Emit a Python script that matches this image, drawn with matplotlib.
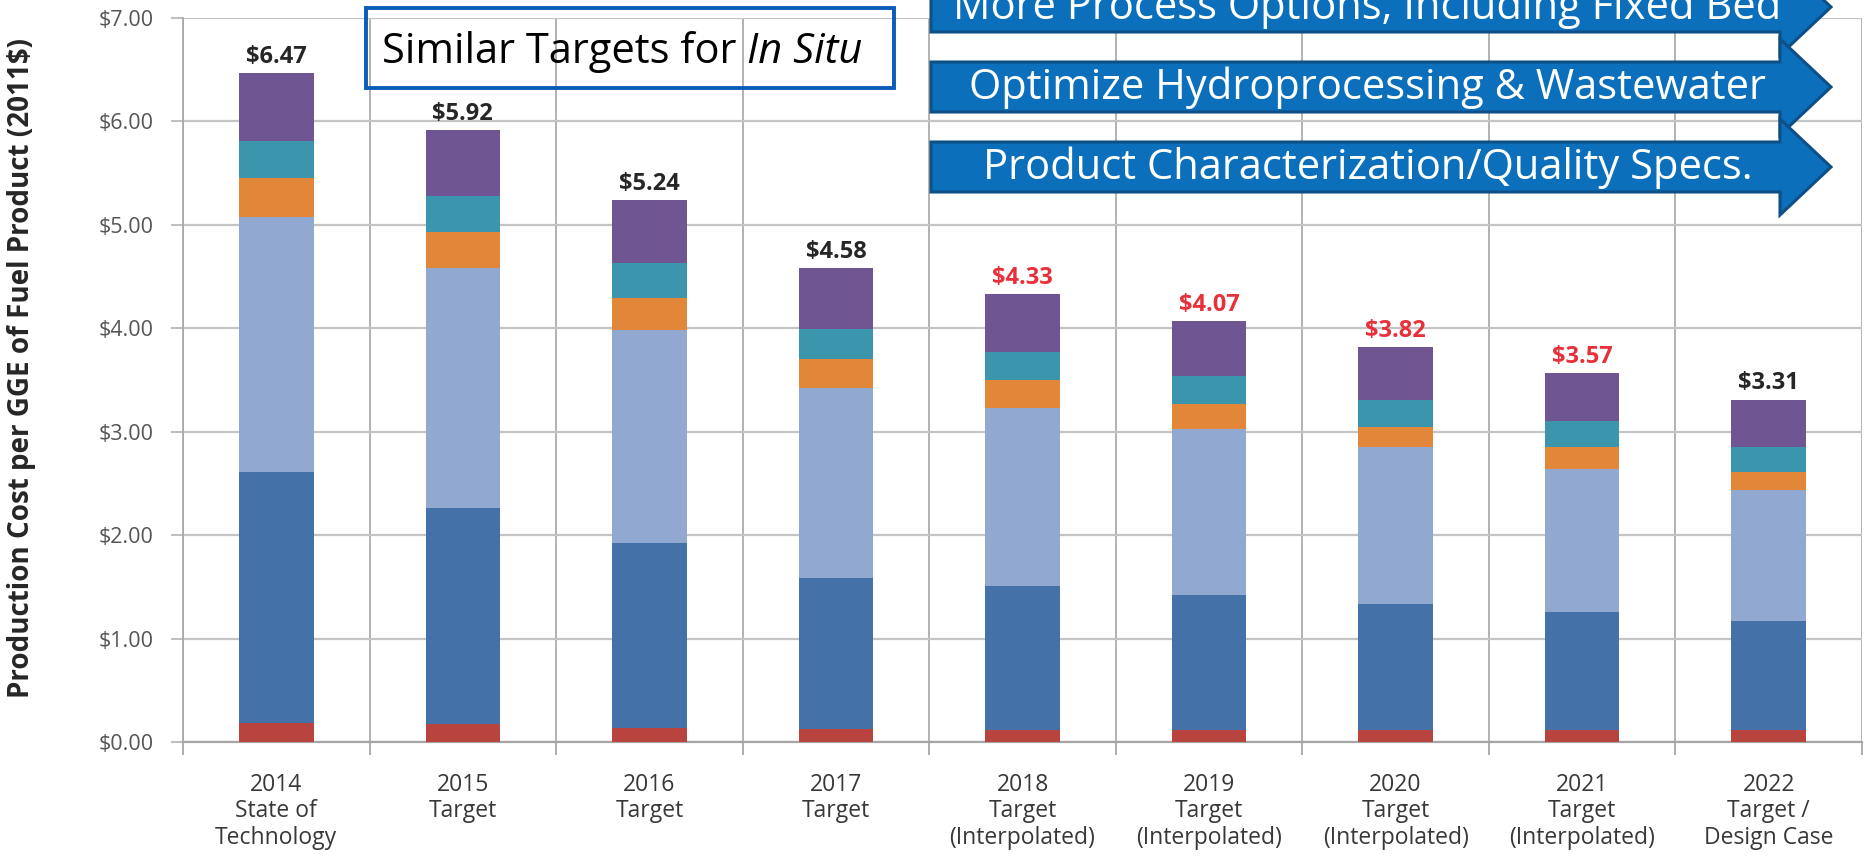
import numpy as np
import matplotlib
matplotlib.use('Agg')
import matplotlib.pyplot as plt
from matplotlib.patches import Polygon, Rectangle

plt.rcParams['font.family'] = ['Open Sans', 'DejaVu Sans']

# ---- data ----
categories = ['2014\nState of\nTechnology', '2015\nTarget', '2016\nTarget', '2017\nTarget',
              '2018\nTarget\n(Interpolated)', '2019\nTarget\n(Interpolated)',
              '2020\nTarget\n(Interpolated)', '2021\nTarget\n(Interpolated)',
              '2022\nTarget /\nDesign Case']
totals = [6.47, 5.92, 5.24, 4.58, 4.33, 4.07, 3.82, 3.57, 3.31]
interpolated = [False, False, False, False, True, True, True, True, False]

seg_red = [0.18, 0.17, 0.14, 0.13, 0.12, 0.12, 0.12, 0.12, 0.12]
seg_dark = [2.43, 2.09, 1.78, 1.46, 1.39, 1.30, 1.21, 1.14, 1.05]
seg_light = [2.47, 2.32, 2.06, 1.83, 1.72, 1.61, 1.52, 1.38, 1.27]
seg_orange = [0.37, 0.35, 0.31, 0.28, 0.27, 0.24, 0.20, 0.21, 0.17]
seg_teal = [0.36, 0.35, 0.34, 0.29, 0.27, 0.27, 0.26, 0.25, 0.24]
seg_purple = [0.66, 0.64, 0.61, 0.59, 0.56, 0.53, 0.51, 0.47, 0.46]

y_ticks = [0, 1, 2, 3, 4, 5, 6, 7]
arrow_labels = ['More Process Options, Including Fixed Bed',
                'Optimize Hydroprocessing & Wastewater',
                'Product Characterization/Quality Specs.']
box_text = 'Similar Targets for '
box_text_italic = 'In Situ'
y_label = 'Production Cost per GGE of Fuel Product (2011$)'

# ---- figure ----
W, H = 1868, 856
fig = plt.figure(figsize=(W / 100, H / 100), dpi=100)
fig.patch.set_facecolor('white')

ax_left, ax_right, ax_top, ax_bot = 183, 1862, 18, 742
ax = fig.add_axes([ax_left / W, 1 - ax_bot / H, (ax_right - ax_left) / W, (ax_bot - ax_top) / H])

segments = [seg_red, seg_dark, seg_light, seg_orange, seg_teal, seg_purple]
colors = ['#B9443F', '#4571A9', '#91A8D0', '#E2873A', '#3A95AD', '#6F5592']

x = np.arange(len(categories))
bottom = np.zeros(len(categories))
for vals, c in zip(segments, colors):
    ax.bar(x, vals, width=0.4, bottom=bottom, color=c, zorder=3, linewidth=0)
    bottom += np.array(vals)

for xi, top, tot, interp in zip(x, bottom, totals, interpolated):
    ax.annotate(f'${tot:.2f}', (xi, top), xytext=(0, 3), textcoords='offset points',
                ha='center', va='bottom', fontsize=17, fontweight='bold',
                color='#E8303A' if interp else '#262626')

ax.set_xlim(-0.5, len(categories) - 0.5)
ax.set_ylim(0, 7)
ax.set_yticks(y_ticks)
ax.set_yticklabels([f'${v:.2f}' for v in y_ticks], fontsize=15.5, color='#555555')
ax.set_xticks(x)
ax.set_xticklabels(categories, fontsize=16.5, color='#383838', linespacing=1.15)
ax.set_xticks(np.arange(-0.5, len(categories)), minor=True)
ax.tick_params(axis='x', which='major', length=0, pad=22)
ax.tick_params(axis='x', which='minor', length=9, color='#A0A0A0', width=1.2)
ax.tick_params(axis='y', length=9, color='#BFBFBF', width=1.5, pad=12)

ax.yaxis.grid(True, color='#C4C4C4', linewidth=1.6, zorder=0)
ax.xaxis.grid(True, which='minor', color='#A6A6A6', linewidth=1.2, zorder=0)
for s in ['top', 'right']:
    ax.spines[s].set_visible(False)
ax.spines['left'].set_color('#A6A6A6')
ax.spines['left'].set_linewidth(1.2)
ax.spines['bottom'].set_color('#A6A6A6')
ax.spines['bottom'].set_linewidth(1.6)
ax.set_axisbelow(True)

fig.text(22 / W, 1 - 368 / H, y_label, rotation=90, ha='center', va='center',
         fontsize=20, fontweight='bold', color='#262626')

# ---- overlay in pixel coordinates ----
ov = fig.add_axes([0, 0, 1, 1], zorder=10)
ov.set_xlim(0, W)
ov.set_ylim(H, 0)
ov.axis('off')
ov.patch.set_alpha(0)

# title box
ov.add_patch(Rectangle((366, 8), 528, 80, fill=False, edgecolor='#0A5CB8', linewidth=2.8))
r = fig.canvas.get_renderer()
t1 = ov.text(382, 52, box_text, fontsize=30, ha='left', va='center', color='black')
bb = t1.get_window_extent(r)
ov.text(382 + bb.width, 52, box_text_italic, fontsize=30, style='italic',
        ha='left', va='center', color='black')

# block arrows
x0, xb, xt = 931, 1780, 1831
h, hh = 25, 48
for cy, lab in zip([7, 87, 167], arrow_labels):
    pts = [(x0, cy - h), (xb, cy - h), (xb, cy - hh), (xt, cy), (xb, cy + hh),
           (xb, cy + h), (x0, cy + h)]
    ov.add_patch(Polygon(pts, closed=True, facecolor='#0B6FBB', edgecolor='#0E4F86',
                         linewidth=2.2, joinstyle='miter'))
    ov.text((x0 + xb) / 2 + 12, cy + 1, lab, fontsize=30, color='white',
            ha='center', va='center')

fig.savefig('out.png', dpi=100)
